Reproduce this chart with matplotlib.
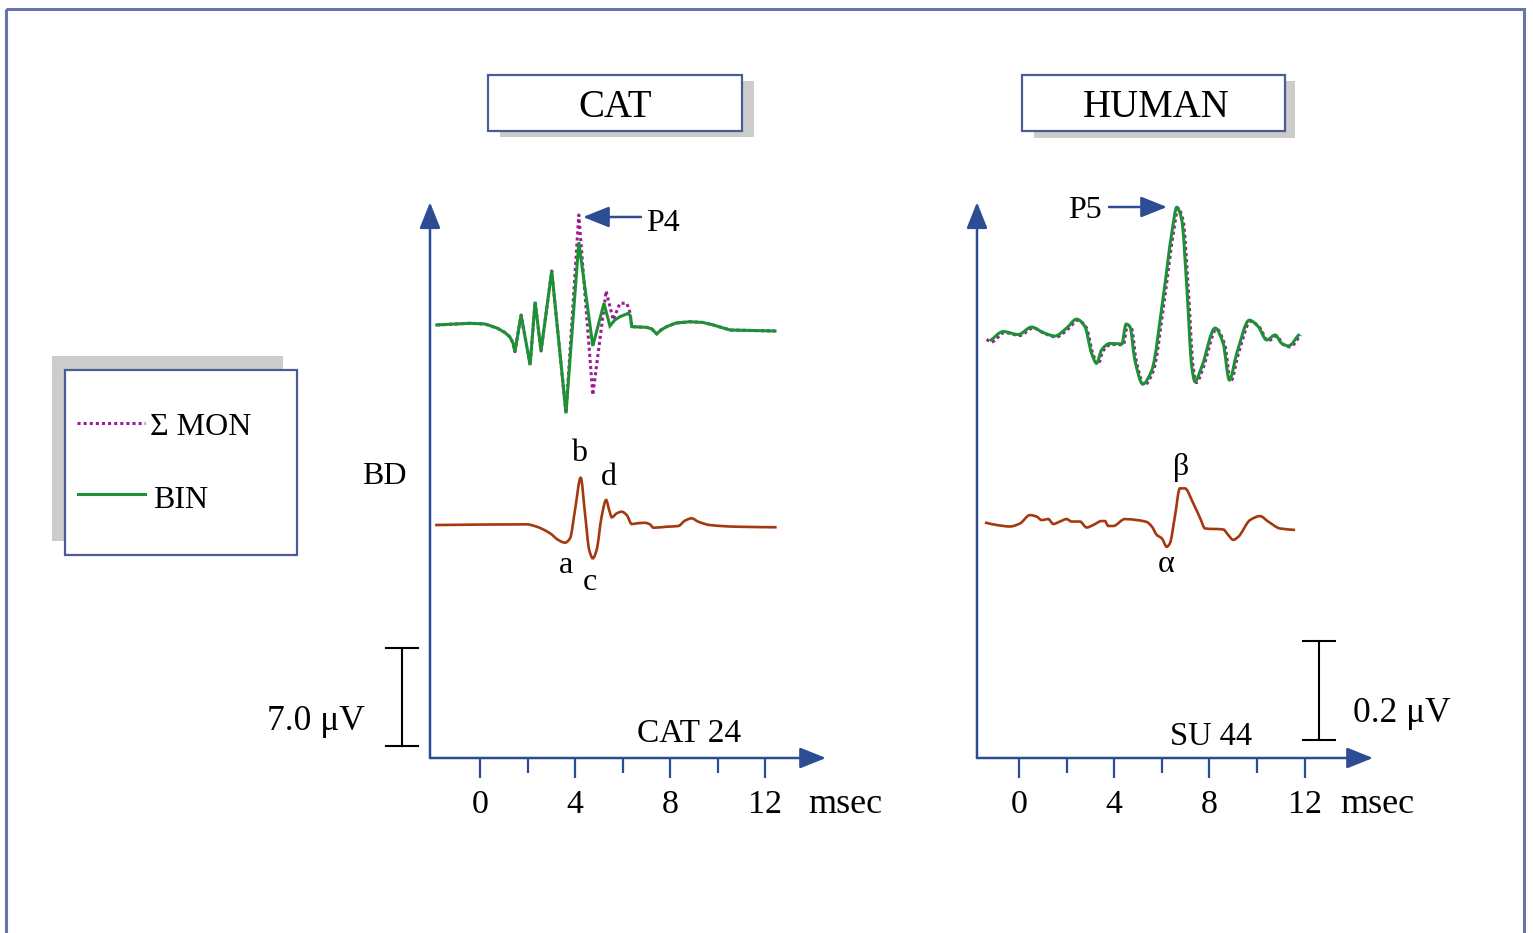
import matplotlib
matplotlib.use("Agg")
import matplotlib.pyplot as plt
from matplotlib.patches import Rectangle, PathPatch
from matplotlib.path import Path

# ---------------- data (time in msec, amplitude in microvolts, relative to trace baseline) ----
cat_bin_t = [-1.82, -1.05, -0.42, 0.21, 0.72, 1.05, 1.26, 1.39, 1.47, 1.73, 2.11, 2.32, 2.57,
             3.02, 3.62, 4.16, 4.75, 5.22, 5.47, 5.68, 5.89, 6.24, 6.33, 6.39, 7.02, 7.24,
             7.44, 7.62, 7.86, 8.25, 8.84, 9.39, 9.82, 10.53, 11.37, 12.42]
cat_bin_v = [-0.07, 0.0, 0.05, 0.0, -0.29, -0.61, -0.93, -1.36, -1.98, 0.64, -2.93, 1.59, -1.93,
             3.79, -6.38, 5.84, -1.57, 1.48, -0.14, 0.29, 0.52, 0.76, 0.57, -0.19, -0.24, -0.36,
             -0.71, -0.43, -0.19, 0.07, 0.16, 0.11, -0.07, -0.43, -0.46, -0.50]

cat_mon_t = [-1.82, -1.05, -0.42, 0.21, 0.72, 1.05, 1.26, 1.39, 1.47, 1.73, 2.11, 2.32, 2.57,
             3.02, 3.62, 4.16, 4.75, 5.31, 5.61, 5.89, 6.18, 6.32, 6.39, 7.02, 7.24,
             7.44, 7.62, 7.86, 8.25, 8.84, 9.39, 9.82, 10.53, 11.37, 12.42]
cat_mon_v = [-0.07, 0.0, 0.05, 0.0, -0.29, -0.61, -0.93, -1.36, -1.98, 0.64, -2.93, 1.59, -1.93,
             3.79, -6.38, 7.79, -5.07, 2.36, 0.29, 1.48, 1.48, 0.79, -0.19, -0.24, -0.36,
             -0.71, -0.43, -0.19, 0.07, 0.16, 0.11, -0.07, -0.43, -0.46, -0.50]

cat_bd_t = [-1.89, 1.97, 2.39, 2.95, 3.30, 3.58, 3.79, 4.00, 4.24, 4.42, 4.60, 4.75, 4.91,
            5.12, 5.31, 5.44, 5.55, 5.76, 5.97, 6.18, 6.39, 6.60, 6.95, 7.16, 7.30, 7.86,
            8.35, 8.63, 8.91, 9.19, 9.68, 10.81, 12.49]
cat_bd_v = [0.0, 0.05, -0.12, -0.59, -1.07, -1.26, -0.95, 1.07, 3.38, 0.84, -1.79, -2.38, -1.79,
            0.59, 1.79, 1.07, 0.55, 0.84, 0.95, 0.71, 0.07, 0.12, 0.16, 0.04, -0.19, -0.12,
            -0.07, 0.31, 0.48, 0.24, 0.0, -0.12, -0.16]

hum_bin_t = [-1.22, -0.66, -0.03, 0.53, 1.02, 1.51, 2.00, 2.42, 2.77, 3.05, 3.26, 3.47, 3.82,
             4.32, 4.50, 4.66, 4.87, 5.20, 5.58, 6.06, 6.42, 6.63, 6.84, 7.05, 7.26, 7.39,
             7.68, 8.24, 8.58, 8.84, 9.15, 9.68, 10.05, 10.41, 10.76, 11.04, 11.32, 11.78]
hum_bin_v = [-0.012, 0.007, 0.001, 0.016, 0.005, -0.002, 0.014, 0.032, 0.017, -0.037, -0.057,
             -0.030, -0.017, -0.018, 0.022, 0.017, -0.051, -0.099, -0.071, 0.077, 0.206, 0.258,
             0.232, 0.098, -0.064, -0.094, -0.064, 0.014, -0.017, -0.091, -0.037, 0.030, 0.017,
             -0.010, 0.000, -0.017, -0.022, 0.002]

hum_mon_t = [-1.36, -1.16, -0.60, 0.03, 0.59, 1.08, 1.57, 2.06, 2.48, 2.83, 3.11, 3.32, 3.53, 3.88,
             4.38, 4.56, 4.72, 4.93, 5.26, 5.64, 6.12, 6.48, 6.69, 6.90, 7.11, 7.32, 7.45,
             7.74, 8.30, 8.64, 8.90, 9.21, 9.74, 10.11, 10.47, 10.82, 11.10, 11.38, 11.84]
hum_mon_v = [-0.009, -0.014, 0.005, -0.001, 0.014, 0.003, -0.004, 0.012, 0.030, 0.015, -0.039,
             -0.059, -0.032, -0.019, -0.020, 0.020, 0.015, -0.053, -0.101, -0.073, 0.075, 0.204,
             0.256, 0.230, 0.096, -0.066, -0.096, -0.066, 0.012, -0.019, -0.093, -0.039, 0.028,
             0.015, -0.012, -0.002, -0.019, -0.024, 0.000]

hum_bd_t = [-1.43, -0.94, -0.38, 0.04, 0.46, 0.74, 0.95, 1.23, 1.44, 1.72, 2.00, 2.21, 2.56,
            2.84, 3.12, 3.47, 3.61, 3.75, 3.96, 4.45, 4.95, 5.37, 5.58, 5.79, 6.00, 6.21,
            6.34, 6.55, 6.76, 6.97, 7.32, 7.61, 7.82, 8.58, 8.79, 9.00, 9.21, 9.71, 10.13,
            10.47, 10.97, 11.60]
hum_bd_v = [0.005, 0.000, -0.003, 0.003, 0.020, 0.017, 0.010, 0.012, 0.002, 0.007, 0.012, 0.007,
            0.007, -0.005, 0.000, 0.008, 0.008, -0.002, -0.002, 0.012, 0.010, 0.006, -0.003,
            -0.020, -0.027, -0.044, -0.037, 0.017, 0.074, 0.074, 0.044, 0.014, -0.007, -0.009,
            -0.020, -0.030, -0.024, 0.010, 0.018, 0.007, -0.007, -0.010]

major_ticks = [0, 4, 8, 12]
minor_ticks = [2, 6, 10]
tick_labels = ["0", "4", "8", "12"]
cat_scale_uv = 7.0
hum_scale_uv = 0.2

# ---------------- styling ----------------
W, H = 1533, 933
BLUE = "#2c4d93"
BOX = "#4a5c98"
OUTER = "#6575a7"
GREEN = "#1e9137"
MAG = "#9c1c94"
BROWN = "#a3390f"
SHADOW = "#cccccc"
FONT = ["Liberation Serif", "DejaVu Serif"]
plt.rcParams["font.family"] = FONT

fig = plt.figure(figsize=(W / 100, H / 100), dpi=100)
bg = fig.add_axes([0, 0, 1, 1])
bg.set_xlim(0, W)
bg.set_ylim(H, 0)
bg.axis("off")

# outer frame
bg.add_patch(Rectangle((6, 9), 1518, 1000, fill=False, ec=OUTER, lw=2.2))


def shadow_box(x, y, w, h, dx, dy, sw=None, sh=None):
    bg.add_patch(Rectangle((x + dx, y + dy), sw or w, sh or h, fc=SHADOW, ec="none"))
    bg.add_patch(Rectangle((x, y), w, h, fc="white", ec=BOX, lw=1.6))


shadow_box(488, 75, 254, 56, 12, 6)
shadow_box(1022, 75, 263, 56, 12, 6, 261, 57)
shadow_box(65, 370, 232, 185, -13, -14, 231, 185)

bg.text(615, 117, "CAT", fontsize=28, ha="center", va="baseline")
bg.text(1156, 117, "HUMAN", fontsize=28, ha="center", va="baseline")

# legend
bg.plot([77, 145], [423, 423], color=MAG, lw=2.2, ls=(0, (1, 1)))
bg.text(150, 435, "Σ MON", fontsize=23, ha="left", va="baseline")
bg.plot([78, 145], [494, 494], color=GREEN, lw=2.2)
bg.text(153, 508, "BIN", fontsize=23, ha="left", va="baseline")

bg.text(384, 484, "BD", fontsize=23, ha="center", va="baseline")


def make_panel(left, right, zero_px, px_per_ms, px_per_uv, top=205, bottom=758):
    ax = fig.add_axes([left / W, (H - bottom) / H, (right - left) / W, (bottom - top) / H])
    ax.set_xlim((left - zero_px) / px_per_ms, (right - zero_px) / px_per_ms)
    ax.set_ylim(0, (bottom - top) / px_per_uv)
    ax.patch.set_alpha(0)
    for s in ax.spines.values():
        s.set_visible(False)
    ax.set_yticks([])
    ax.set_xticks(major_ticks)
    ax.set_xticklabels(tick_labels, fontsize=24.5)
    ax.set_xticks(minor_ticks, minor=True)
    ax.tick_params(axis="x", which="major", length=14.5, width=1.6, color=BLUE, pad=8)
    ax.tick_params(axis="x", which="minor", length=10.5, width=1.6, color=BLUE)
    arrow = dict(arrowstyle="-|>,head_length=0.8,head_width=0.32", lw=1.8, color=BLUE,
                 mutation_scale=20, shrinkA=0, shrinkB=0)
    ax.annotate("", xy=(0, 1.005), xycoords="axes fraction", xytext=(0, 0), arrowprops=arrow)
    ax.annotate("", xy=(1, 0), xycoords="axes fraction", xytext=(0, 0), arrowprops=arrow)
    return ax


def smooth_trace(ax, t, v, offset, **kw):
    """Draw a smooth monotone cubic (Bezier) curve through the given samples."""
    y = [val + offset for val in v]
    n = len(t)
    h = [t[i + 1] - t[i] for i in range(n - 1)]
    s = [(y[i + 1] - y[i]) / h[i] for i in range(n - 1)]
    m = [0.0] * n
    m[0], m[-1] = s[0], s[-1]
    for i in range(1, n - 1):
        if s[i - 1] * s[i] <= 0:
            m[i] = 0.0
        else:
            w1 = 2 * h[i] + h[i - 1]
            w2 = h[i] + 2 * h[i - 1]
            m[i] = (w1 + w2) / (w1 / s[i - 1] + w2 / s[i])
    verts = [(t[0], y[0])]
    codes = [Path.MOVETO]
    for i in range(n - 1):
        verts += [(t[i] + h[i] / 3, y[i] + m[i] * h[i] / 3),
                  (t[i + 1] - h[i] / 3, y[i + 1] - m[i + 1] * h[i] / 3),
                  (t[i + 1], y[i + 1])]
        codes += [Path.CURVE4] * 3
    patch = PathPatch(Path(verts, codes), fill=False, clip_on=False, capstyle="butt", **kw)
    ax.add_patch(patch)


cat_ax = make_panel(430, 826, 480, 23.75, 14.0)
hum_ax = make_panel(977, 1373, 1019, 23.8, 495.0)

# trace baselines (in axis units above the time axis)
cat_top, cat_low = 31.0, 16.64
hum_top, hum_low = 0.8545, 0.4707

cat_ax.plot(cat_mon_t, [v + cat_top for v in cat_mon_v], color=MAG, lw=2.2, ls=(0, (1, 1)),
            clip_on=False)
cat_ax.plot(cat_bin_t, [v + cat_top for v in cat_bin_v], color=GREEN, lw=2.2,
            solid_joinstyle="miter", clip_on=False)
smooth_trace(cat_ax, cat_bd_t, cat_bd_v, cat_low, color=BROWN, lw=1.9)

smooth_trace(hum_ax, hum_mon_t, hum_mon_v, hum_top, color=MAG, lw=2.2, ls=(0, (1, 1)))
smooth_trace(hum_ax, hum_bin_t, hum_bin_v, hum_top, color=GREEN, lw=2.2)
smooth_trace(hum_ax, hum_bd_t, hum_bd_v, hum_low, color=BROWN, lw=1.9)


# calibration bars
def scale_bar(ax, t, v0, size, half_w):
    ax.plot([t, t], [v0, v0 + size], color="black", lw=1.5, clip_on=False)
    ax.plot([t - half_w, t + half_w], [v0, v0], color="black", lw=1.5, clip_on=False)
    ax.plot([t - half_w, t + half_w], [v0 + size, v0 + size], color="black", lw=1.5, clip_on=False)


scale_bar(cat_ax, -3.284, 0.857, cat_scale_uv, 0.67)
scale_bar(hum_ax, 12.605, 0.036, hum_scale_uv, 0.67)

bg.text(316, 730, "7.0 μV", fontsize=25.5, ha="center", va="baseline")
bg.text(1402, 722, "0.2 μV", fontsize=25.5, ha="center", va="baseline")
bg.text(689, 742, "CAT 24", fontsize=24, ha="center", va="baseline")
bg.text(1211, 745, "SU 44", fontsize=23.5, ha="center", va="baseline")
bg.text(845, 813, "msec", fontsize=26, ha="center", va="baseline")
bg.text(1377, 813, "msec", fontsize=26, ha="center", va="baseline")

# peak labels
for s, x, y in [("a", 566, 573), ("b", 579, 461), ("c", 590, 590), ("d", 609, 485),
                ("α", 1166, 572), ("β", 1181, 475)]:
    bg.text(x, y, s, fontsize=23, ha="center", va="baseline")

arr = dict(arrowstyle="-|>,head_length=0.8,head_width=0.32", lw=1.8, color=BLUE,
           mutation_scale=20, shrinkA=0, shrinkB=0)
bg.annotate("", xy=(583, 217), xytext=(641, 217), arrowprops=arr)
bg.text(646, 231, "P4", fontsize=23, ha="left", va="baseline")
bg.annotate("", xy=(1167, 207), xytext=(1109, 207), arrowprops=arr)
bg.text(1102, 218, "P5", fontsize=23, ha="right", va="baseline")

fig.savefig("out.png", dpi=100)
